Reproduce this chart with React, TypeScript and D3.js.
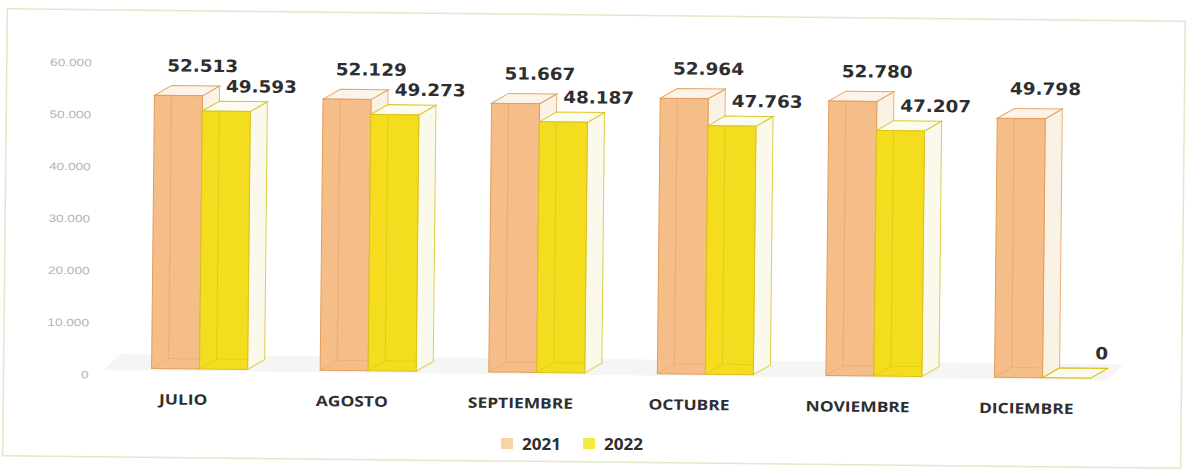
import React from 'react';
import * as d3 from 'd3';

const months = ['JULIO', 'AGOSTO', 'SEPTIEMBRE', 'OCTUBRE', 'NOVIEMBRE', 'DICIEMBRE'];
const seriesNames = ['2021', '2022'];
const values2021 = [52513, 52129, 51667, 52964, 52780, 49798];
const values2022 = [49593, 49273, 48187, 47763, 47207, 0];
const yTicks = [0, 10000, 20000, 30000, 40000, 50000, 60000];

const W = 1186;
const H = 470;
const BASE = 373;
const DX = 17;
const DY = -10;

const fmt = d3.formatLocale({ decimal: ',', thousands: '.', grouping: [3], currency: ['', ''] }).format(',');

const styles = [
  { front: '#F5BE89', stroke: '#E39D5A', side: '#FBF2E6', top: '#FCF4EA', inner: '#E5A568', legend: '#F7D3A5', labelDx: 24, labelDy: 24 },
  { front: '#F4DD1E', stroke: '#D8C21C', side: '#FBF9EC', top: '#FCFBEF', inner: '#D9C21A', legend: '#F4EB40', labelDx: 35, labelDy: 19 },
];

export default function App() {
  const x = d3.scaleBand<string>().domain(months).range([110, 1121.6]).padding(0);
  const xs = d3.scaleBand<string>().domain(seriesNames).range([0, 96]).padding(0);
  const y = d3.scaleLinear().domain([0, 60000]).range([BASE, BASE - 312]);
  const yAxis = d3.scaleLinear().domain([0, 60000]).range([379.5, 67.5]);
  const data = [values2021, values2022];
  const bw = xs.bandwidth();

  const bars: React.ReactNode[] = [];
  const labels: React.ReactNode[] = [];
  months.forEach((m, i) => {
    seriesNames.forEach((s, si) => {
      const v = data[si][i];
      const st = styles[si];
      const L = (x(m) as number) + 43 + (xs(s) as number);
      const R = L + bw;
      const T = y(v);
      const B = y(0);
      const key = `${m}-${s}`;
      if (v > 0) {
        bars.push(
          <g key={key}>
            <polygon
              points={`${R},${T} ${R + DX},${T + DY} ${R + DX},${B + DY} ${R},${B}`}
              fill={st.side}
              stroke={st.stroke}
              strokeWidth={1}
              strokeOpacity={0.8}
            />
            <polygon
              points={`${L},${T} ${L + DX},${T + DY} ${R + DX},${T + DY} ${R},${T}`}
              fill={st.top}
              stroke={st.stroke}
              strokeWidth={1}
              strokeOpacity={0.9}
            />
            <rect x={L} y={T} width={bw} height={B - T} fill={st.front} stroke={st.stroke} strokeWidth={1} />
            <line x1={L + DX} y1={T} x2={L + DX} y2={B + DY} stroke={st.inner} strokeOpacity={0.7} />
            <line x1={L + DX} y1={B + DY} x2={R} y2={B + DY} stroke={st.inner} strokeOpacity={0.5} />
            <line x1={L} y1={B} x2={L + DX} y2={B + DY} stroke={st.inner} strokeOpacity={0.5} />
          </g>
        );
      } else {
        bars.push(
          <polygon
            key={key}
            points={`${L},${B} ${L + DX},${B + DY} ${R + DX},${B + DY} ${R},${B}`}
            fill={st.top}
            stroke={st.stroke}
            strokeWidth={1.2}
          />
        );
      }
      const lx = L + bw / 2 + st.labelDx;
      const ly = T - st.labelDy;
      labels.push(
        <text
          key={`l-${key}`}
          transform={`translate(${lx},${ly}) scale(1.08,1)`}
          textAnchor="middle"
          fontFamily="DejaVu Sans"
          fontWeight={700}
          fontSize={17}
          fill="#2e2e30"
        >
          {fmt(v)}
        </text>
      );
    });
  });

  return (
    <svg
      width={W}
      height={H}
      style={{ position: 'absolute', left: 0, top: 0, background: '#ffffff' }}
    >
      <g transform="rotate(0.6, 593, 235)">
        <rect x={5} y={15} width={1178} height={447} fill="#ffffff" stroke="#E4E7C8" strokeWidth={1.5} />
        <polygon
          points={`105,${BASE + 2} 122,${BASE - 14} 1125,${BASE - 14} 1108,${BASE + 2}`}
          fill="#F2F2F2"
          opacity={0.8}
        />
        {yTicks.map((t) => (
          <text
            key={t}
            transform={`translate(90,${yAxis(t) + 4}) scale(1.3,1)`}
            textAnchor="end"
            fontFamily="Liberation Sans"
            fontSize={10.5}
            fill="#B4B4B4"
          >
            {fmt(t)}
          </text>
        ))}
        {bars}
        {labels}
        {months.map((m) => (
          <text
            key={m}
            transform={`translate(${(x(m) as number) + 75},409) scale(1.2,1)`}
            textAnchor="middle"
            fontFamily="Open Sans"
            fontWeight={700}
            fontSize={14.5}
            fill="#2e2e30"
          >
            {m}
          </text>
        ))}
      </g>
      <g>
        {seriesNames.map((s, si) => {
          const lx = 501 + si * 82;
          return (
            <g key={s}>
              <rect x={lx} y={438} width={12} height={11} fill={styles[si].legend} />
              <text
                transform={`translate(${lx + 21},450) scale(1.1,1)`}
                fontFamily="Open Sans"
                fontWeight={700}
                fontSize={15.5}
                fill="#2e2e30"
              >
                {s}
              </text>
            </g>
          );
        })}
      </g>
    </svg>
  );
}
